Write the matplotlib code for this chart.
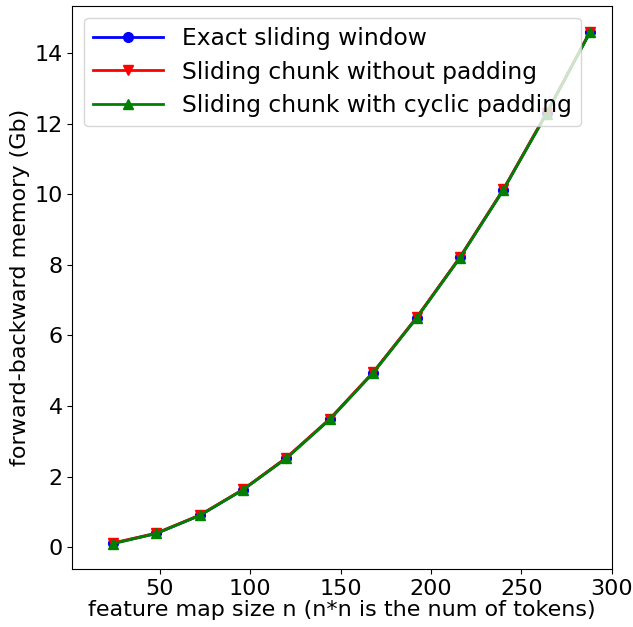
import matplotlib
matplotlib.use("Agg")
import matplotlib.pyplot as plt

n_sizes = [24, 48, 72, 96, 120, 144, 168, 192, 216, 240, 264, 288]
exact_window = [0.11, 0.39, 0.90, 1.63, 2.53, 3.63, 4.95, 6.50, 8.21, 10.13, 12.30, 14.60]
chunk_no_pad = [0.12, 0.40, 0.91, 1.64, 2.54, 3.64, 4.96, 6.51, 8.22, 10.14, 12.31, 14.61]
chunk_cyclic = [0.10, 0.39, 0.90, 1.63, 2.52, 3.62, 4.94, 6.49, 8.20, 10.12, 12.29, 14.59]

fig = plt.figure(figsize=(6.33, 6.27), dpi=100)
ax = fig.add_axes([0.1142, 0.092, 0.9664 - 0.1142, 0.9904 - 0.092])

ax.plot(n_sizes, exact_window, color="blue", marker="o", lw=2, ms=7, label="Exact sliding window")
ax.plot(n_sizes, chunk_no_pad, color="red", marker="v", lw=2, ms=7, label="Sliding chunk without padding")
ax.plot(n_sizes, chunk_cyclic, color="green", marker="^", lw=2, ms=7, label="Sliding chunk with cyclic padding")

ax.set_xlim(1.5, 300)
ax.set_xticks([50, 100, 150, 200, 250, 300])
ax.set_yticks([0, 2, 4, 6, 8, 10, 12, 14])
ax.tick_params(labelsize=16)
ax.set_xlabel("feature map size n (n*n is the num of tokens)", fontsize=16, labelpad=1)
ax.set_ylabel("forward-backward memory (Gb)", fontsize=16, labelpad=3)
ax.legend(loc="upper left", fontsize=16.8, handlelength=3.0, labelspacing=0.45)

fig.savefig("out.png", dpi=100)
